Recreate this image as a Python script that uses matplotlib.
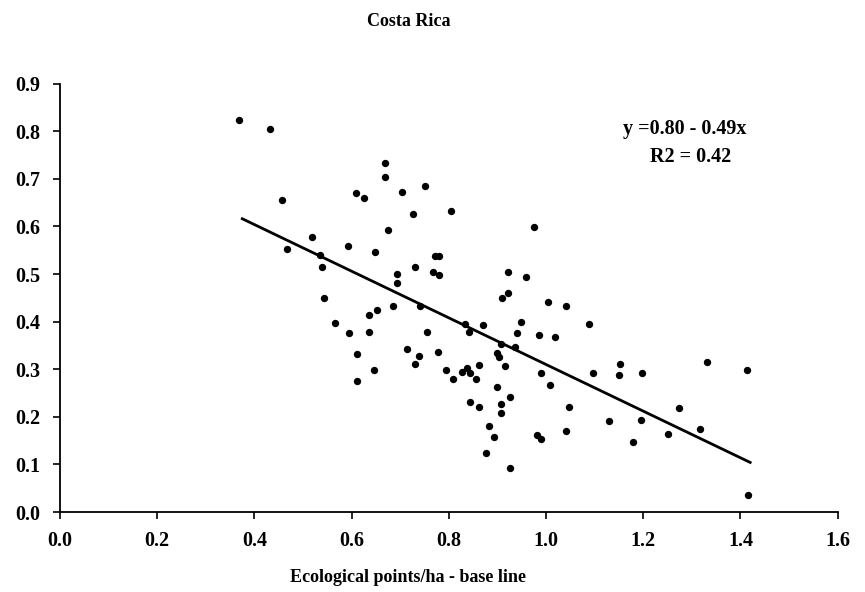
import matplotlib
matplotlib.use("Agg")
import matplotlib.pyplot as plt
import numpy as np

# Data
eco_points = [0.369, 0.432, 0.669, 0.669, 0.608, 0.625, 0.703, 0.751, 0.457, 0.727,
              0.805, 0.674, 0.976, 0.518, 0.593, 0.468, 0.648, 0.534, 0.772, 0.780,
              0.539, 0.730, 0.694, 0.694, 0.768, 0.780, 0.922, 0.958, 0.544, 0.909,
              0.922, 1.005, 1.042, 0.686, 0.741, 0.653, 0.636, 0.566, 0.595, 0.636,
              0.833, 0.871, 0.948, 1.088, 0.756, 0.842, 0.940, 0.986, 1.018, 0.778,
              0.713, 0.907, 0.937, 0.739, 0.730, 0.612, 0.899, 0.903, 0.862, 0.916,
              0.794, 0.827, 0.838, 0.844, 0.808, 0.855, 0.645, 0.612, 0.989, 1.009,
              1.096, 1.153, 1.150, 1.198, 1.331, 1.413, 0.899, 0.926, 0.844, 0.862,
              0.907, 0.907, 1.047, 1.130, 1.195, 1.273, 0.882, 0.893, 0.981, 0.989,
              1.042, 1.178, 1.251, 1.317, 0.877, 0.926, 1.416]
values = [0.824, 0.804, 0.733, 0.705, 0.670, 0.660, 0.672, 0.686, 0.656, 0.627,
          0.632, 0.593, 0.598, 0.578, 0.560, 0.552, 0.547, 0.540, 0.538, 0.538,
          0.515, 0.515, 0.501, 0.481, 0.505, 0.497, 0.504, 0.493, 0.449, 0.449,
          0.460, 0.442, 0.433, 0.433, 0.433, 0.425, 0.413, 0.397, 0.376, 0.379,
          0.395, 0.393, 0.399, 0.396, 0.379, 0.379, 0.376, 0.371, 0.367, 0.337,
          0.343, 0.353, 0.346, 0.327, 0.312, 0.332, 0.334, 0.325, 0.309, 0.306,
          0.299, 0.295, 0.302, 0.293, 0.279, 0.279, 0.299, 0.276, 0.292, 0.266,
          0.292, 0.312, 0.287, 0.293, 0.315, 0.298, 0.262, 0.242, 0.232, 0.220,
          0.228, 0.208, 0.220, 0.191, 0.194, 0.219, 0.181, 0.158, 0.162, 0.153,
          0.170, 0.147, 0.164, 0.174, 0.124, 0.093, 0.035]

intercept = 0.80
slope = -0.49
fit_range = [0.375, 1.42]

x_ticks = [0.0, 0.2, 0.4, 0.6, 0.8, 1.0, 1.2, 1.4, 1.6]
y_ticks = [0.0, 0.1, 0.2, 0.3, 0.4, 0.5, 0.6, 0.7, 0.8, 0.9]

plt.rcParams['font.family'] = ['Liberation Serif', 'DejaVu Serif']
plt.rcParams['font.weight'] = 'bold'

fig = plt.figure(figsize=(8.65, 5.92), dpi=100)
ax = fig.add_axes([0.0694, 0.1351, 0.8990, 0.7235])

ax.scatter(eco_points, values, s=28, color='black', zorder=3, linewidths=0)
fx = np.array(fit_range)
ax.plot(fx, intercept + slope * fx, color='black', lw=2.0, zorder=2)

ax.set_xlim(0.0, 1.6)
ax.set_ylim(0.0, 0.9)
ax.set_xticks(x_ticks)
ax.set_yticks(y_ticks)
ax.set_xticklabels([f"{v:.1f}" for v in x_ticks], fontsize=14.5, fontweight='bold')
ax.set_yticklabels([f"{v:.1f}" for v in y_ticks], fontsize=14.5, fontweight='bold')
ax.tick_params(direction='out', length=5, width=1.2)
ax.tick_params(axis='x', pad=9)
ax.tick_params(axis='y', pad=9)
for s in ['top', 'right']:
    ax.spines[s].set_visible(False)
for s in ['left', 'bottom']:
    ax.spines[s].set_linewidth(1.3)

ax.text(1.286, 0.805, "y =0.80 - 0.49x", ha='center', va='center', fontsize=14.5, fontweight='bold')
ax.text(1.297, 0.745, "R2 = 0.42", ha='center', va='center', fontsize=14.5, fontweight='bold')

fig.text(409/865, 1 - 22/592, "Costa Rica", ha='center', va='center', fontsize=13, fontweight='bold')
fig.text(408/865, 1 - 578/592, "Ecological points/ha - base line", ha='center', va='center',
         fontsize=13, fontweight='bold')

fig.savefig("out.png", dpi=100, facecolor='white')
